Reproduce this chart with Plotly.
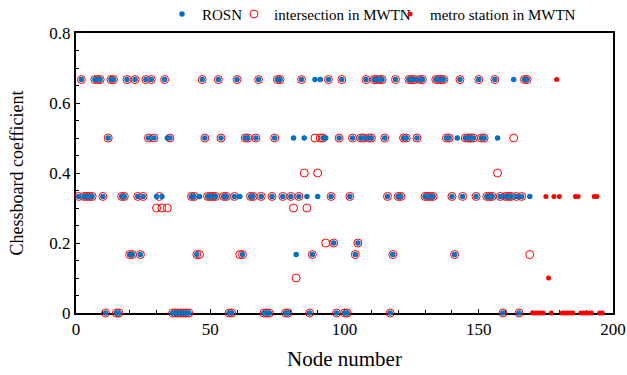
import plotly.graph_objects as go

# ROSN: node number and chessboard coefficient
rosn_node = [1, 2, 3, 4, 5, 6, 7, 8, 9, 10, 11, 12, 13, 14, 15, 16, 17, 18, 19, 20,
             21, 22, 23, 24, 25, 26, 27, 28, 29, 30, 32, 33, 34, 35, 36, 37, 38, 39, 40,
             41, 42, 43, 44, 45, 46, 47, 48, 49, 50, 51, 52, 53, 54, 55, 56, 57, 58, 59, 60,
             61, 62, 63, 64, 65, 66, 67, 68, 69, 70, 71, 72, 73, 74, 75, 76, 77, 78, 79, 80,
             81, 82, 83, 84, 85, 86, 87, 88, 89, 90, 91, 92, 93, 94, 95, 96, 97, 98, 99, 100,
             101, 102, 103, 104, 105, 106, 107, 108, 109, 110, 111, 112, 113, 114, 115, 116,
             117, 118, 119, 120, 121, 122, 123, 124, 125, 126, 127, 128, 129, 130, 131, 132,
             133, 134, 135, 136, 137, 138, 139, 140, 141, 142, 143, 144, 145, 146, 147, 148,
             149, 150, 151, 152, 153, 154, 155, 156, 157, 158, 159, 160, 161, 162, 163, 164,
             165, 166, 167, 168, 169]
rosn_coef = [0.333, 0.667, 0.333, 0.333, 0.333, 0.333, 0.667, 0.667, 0.667, 0.333,
             0, 0.5, 0.667, 0.667, 0, 0, 0.333, 0.333, 0.667, 0.167,
             0.167, 0.667, 0.333, 0.167, 0.333, 0.667, 0.5, 0.667, 0.5, 0.333,
             0.333, 0.667, 0.5, 0.5, 0, 0, 0, 0, 0,
             0, 0, 0.333, 0.333, 0.167, 0.333, 0.667, 0.5, 0.333, 0.333, 0.333,
             0.333, 0.667, 0.5, 0.333, 0.333, 0, 0, 0.333, 0.667,
             0.333, 0.167, 0.5, 0.5, 0.333, 0.333, 0.5, 0.667, 0.333, 0, 0,
             0, 0.333, 0.5, 0.667, 0.667, 0.333, 0, 0, 0.333,
             0.5, 0.167, 0.333, 0.667, 0.5, 0.333, 0, 0.167, 0.667, 0.333,
             0.667, 0.5, 0.5, 0.667, 0.333, 0.2, 0, 0.5, 0.667, 0,
             0, 0.333, 0.5, 0.167, 0.2, 0.5, 0.5, 0.667, 0.5, 0.5,
             0.667, 0.667, 0.667, 0.667, 0.5, 0.333,
             0, 0.167, 0.667, 0.333, 0.333, 0.5, 0.5, 0.667, 0.667, 0.667,
             0.5, 0.667, 0.667, 0.333, 0.333, 0.333,
             0.333, 0.667, 0.667, 0.667, 0.667, 0.5, 0.5, 0.333, 0.167, 0.5,
             0.667, 0.333, 0.5, 0.5, 0.5, 0.5,
             0.333, 0.667, 0.5, 0.5, 0.333, 0.333, 0.333, 0.667, 0.5, 0.333,
             0, 0.333, 0.333, 0.333, 0.667, 0.333,
             0, 0.333, 0.667, 0.667, 0.333]

# Intersections in MWTN
mwtn_node = [1, 2, 3, 4, 5, 6, 7, 8, 9, 10, 11, 12, 13, 14, 15, 16, 17, 18, 19, 20,
             21, 22, 23, 24, 25, 26, 27, 28, 29, 30, 31, 32, 33, 34, 35, 36, 37, 38, 39, 40,
             41, 42, 43, 44, 45, 46, 47, 48, 49, 50, 51, 52, 53, 54, 55, 56, 57, 58, 59, 60,
             61, 62, 63, 64, 65, 66, 67, 68, 69, 70, 71, 72, 73, 74, 75, 76, 77, 78, 79, 80,
             81, 82, 83, 84, 85, 86, 87, 88, 89, 90, 91, 92, 93, 94, 95, 96, 97, 98, 99, 100,
             101, 102, 103, 104, 105, 106, 107, 108, 109, 110, 111, 112, 113, 114, 115, 116,
             117, 118, 119, 120, 121, 122, 123, 124, 125, 126, 127, 128, 129, 130, 131, 132,
             133, 134, 135, 136, 137, 138, 139, 140, 141, 143, 144, 145, 146, 147, 148,
             149, 150, 151, 152, 153, 154, 155, 156, 157, 158, 159, 160, 161, 162, 163, 164,
             165, 166, 167, 168, 169]
mwtn_coef = [0.333, 0.667, 0.333, 0.333, 0.333, 0.333, 0.667, 0.667, 0.667, 0.333,
             0, 0.5, 0.667, 0.667, 0, 0, 0.333, 0.333, 0.667, 0.167,
             0.167, 0.667, 0.333, 0.167, 0.333, 0.667, 0.5, 0.667, 0.5, 0.3,
             0.333, 0.3, 0.667, 0.3, 0.5, 0, 0, 0, 0, 0,
             0, 0, 0.333, 0.333, 0.167, 0.167, 0.667, 0.5, 0.333, 0.333, 0.333,
             0.333, 0.667, 0.5, 0.333, 0.333, 0, 0, 0.333, 0.667,
             0.167, 0.167, 0.5, 0.5, 0.333, 0.333, 0.5, 0.667, 0.333, 0, 0,
             0, 0.333, 0.5, 0.667, 0.667, 0.333, 0, 0, 0.333,
             0.3, 0.1, 0.333, 0.667, 0.4, 0.3, 0, 0.167, 0.5, 0.4,
             0.5, 0.5, 0.2, 0.667, 0.333, 0.2, 0, 0.5, 0.667, 0,
             0, 0.333, 0.5, 0.167, 0.2, 0.5, 0.5, 0.667, 0.5, 0.5,
             0.667, 0.667, 0.667, 0.667, 0.5, 0.333,
             0, 0.167, 0.667, 0.333, 0.333, 0.5, 0.5, 0.667, 0.667, 0.667,
             0.5, 0.667, 0.667, 0.333, 0.333, 0.333,
             0.333, 0.667, 0.667, 0.667, 0.667, 0.5, 0.5, 0.333, 0.167,
             0.667, 0.333, 0.5, 0.5, 0.5, 0.5,
             0.333, 0.667, 0.5, 0.5, 0.333, 0.333, 0.333, 0.667, 0.4, 0.333,
             0, 0.333, 0.333, 0.333, 0.5, 0.333,
             0, 0.333, 0.667, 0.667, 0.167]

# Metro stations in MWTN
metro_node = [170, 171, 172, 173, 174, 175, 176, 177, 178, 179, 180, 181, 182, 183,
              184, 185, 186, 187, 188, 189, 190, 191, 192, 193, 194, 195, 196]
metro_coef = [0, 0, 0, 0, 0, 0.333, 0.1, 0, 0.333, 0.667, 0.333, 0, 0, 0,
              0, 0, 0.333, 0.333, 0, 0, 0, 0, 0, 0.333, 0.333, 0, 0]

SERIF = "Times New Roman, Liberation Serif, serif"
BLUE = "#0070C0"
RED = "#FF0000"

fig = go.Figure()

fig.add_trace(go.Scatter(
    x=mwtn_node, y=mwtn_coef, mode="markers", name="intersection in MWTN",
    marker=dict(symbol="circle-open", size=8, color=RED, line=dict(width=1, color=RED)),
    cliponaxis=False, legendrank=2, legendwidth=111,
))
fig.add_trace(go.Scatter(
    x=metro_node, y=metro_coef, mode="markers", name="metro station in MWTN",
    marker=dict(symbol="circle", size=5, color=RED),
    cliponaxis=False, legendrank=3,
))
fig.add_trace(go.Scatter(
    x=rosn_node, y=rosn_coef, mode="markers", name="ROSN",
    marker=dict(symbol="circle", size=5.5, color=BLUE),
    cliponaxis=False, legendrank=1, legendwidth=27,
))

axis_common = dict(
    showline=True, linecolor="black", linewidth=2, mirror=True,
    showgrid=False, zeroline=False, automargin=False, layer="below traces",
    ticks="inside", ticklen=4, tickwidth=1, tickcolor="black",
    tickfont=dict(family=SERIF, size=17, color="black"),
)

fig.update_xaxes(
    range=[0, 200], dtick=50, tick0=0,
    minor=dict(dtick=10, ticks="inside", ticklen=3, tickwidth=1, tickcolor="black"),
    title=dict(text="Node number", font=dict(family=SERIF, size=21, color="black"), standoff=13),
    **axis_common,
)
fig.update_yaxes(
    range=[0, 0.8], dtick=0.2, tick0=0,
    minor=dict(dtick=0.05, ticks="inside", ticklen=3, tickwidth=1, tickcolor="black"),
    title=dict(text="Chessboard coefficient", font=dict(family=SERIF, size=18, color="black"), standoff=21),
    **axis_common,
)

fig.update_layout(
    width=627, height=375,
    margin=dict(l=76, r=14, t=33, b=62),
    paper_bgcolor="white", plot_bgcolor="white",
    font=dict(family=SERIF, color="black"),
    showlegend=True,
    legend=dict(
        orientation="h", xref="container", yref="container",
        x=0.2584, xanchor="left", y=0.962, yanchor="middle",
        font=dict(family=SERIF, size=15, color="black"),
        bgcolor="rgba(255,255,255,0)", borderwidth=0,
        itemwidth=30, tracegroupgap=0,
    ),
)

fig.write_html("out.html")
